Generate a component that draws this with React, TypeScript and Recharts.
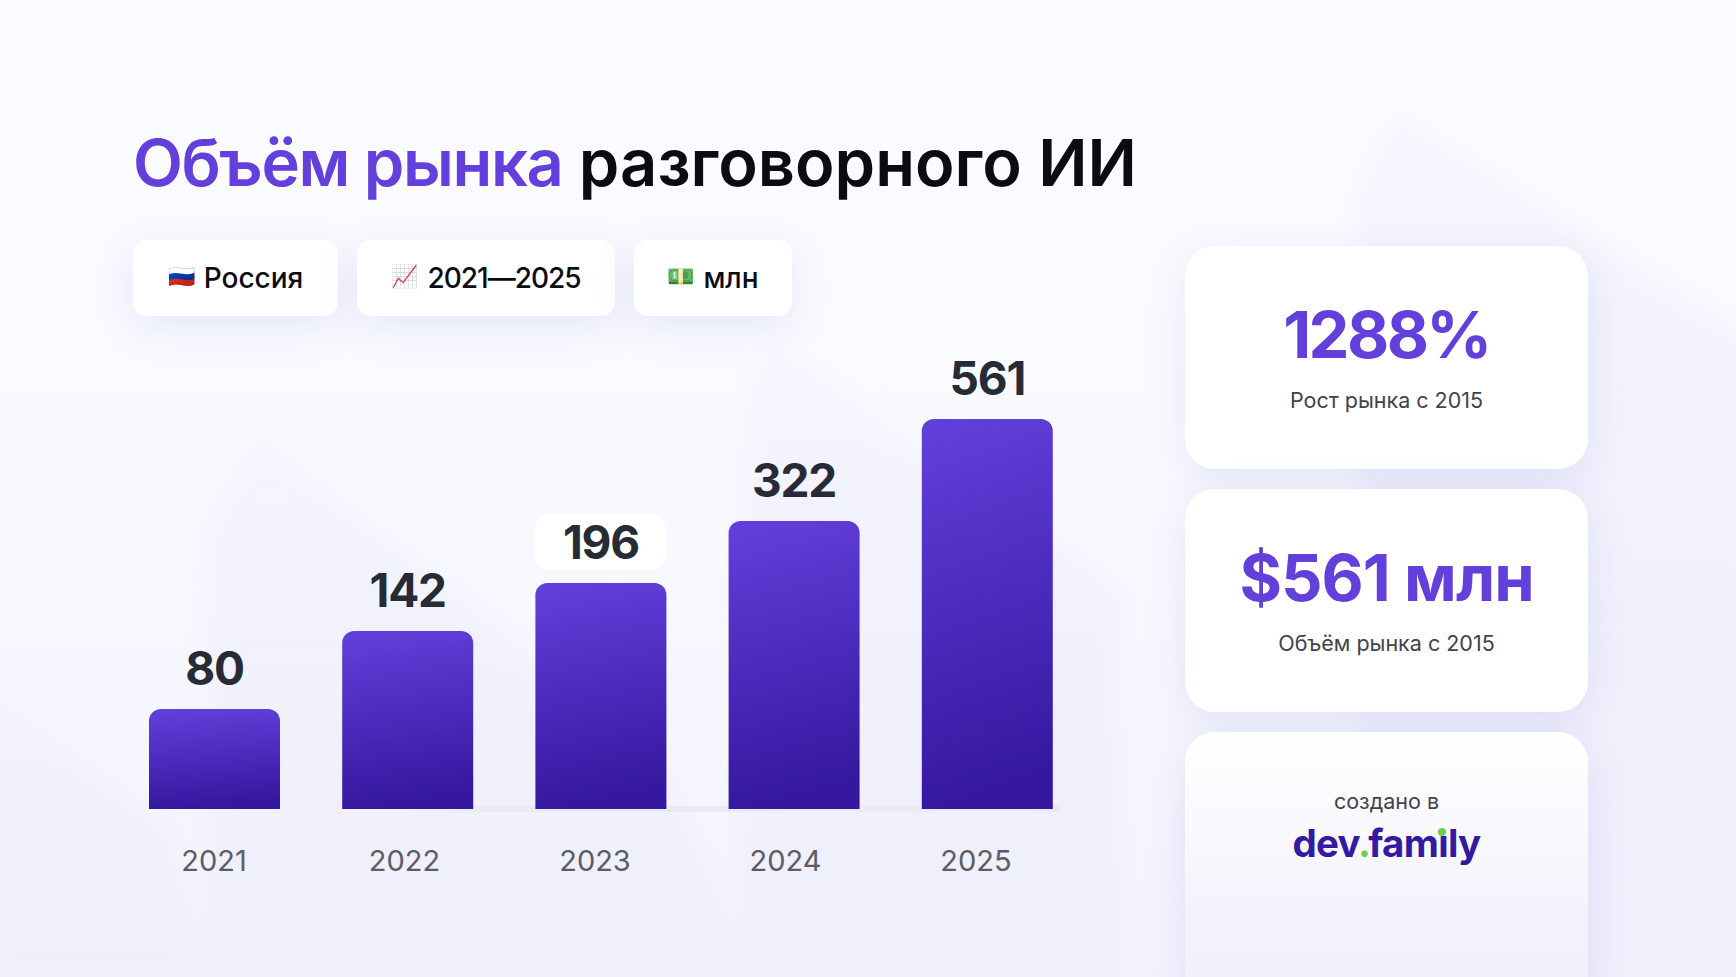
import { BarChart, Bar, XAxis, YAxis, LabelList, CartesianGrid } from "recharts";

const years = ["2021", "2022", "2023", "2024", "2025"];
const marketValues = [80, 142, 196, 322, 561];
// drawn bar lengths; the source does not scale them to the printed values
const barLengths = [100, 178, 226, 288, 390];
const highlightedYear = "2023";

const chipIcons = ["🇷🇺", "📈", "💵"];
const chipTexts = ["Россия", "2021—2025", "млн"];
const statValues = ["1288%", "$561 млн"];
const statCaptions = ["Рост рынка с 2015", "Объём рынка с 2015"];

const chipLefts = [133, 357, 634];
const chipWidths = [205, 258, 158];
const chipSpacing = [0, -1, 0];
const statTops = [246, 489];
const statSpacing = [-2.6, -1];

const tableData = years.map((year, i) => ({
  year,
  length: barLengths[i],
  value: marketValues[i],
}));

const font = "Inter, sans-serif";
const purple = "#6340dc";
const cardShadow = "0 10px 40px rgba(84, 100, 190, 0.13)";

function ValueLabel(props: any) {
  const { x, y, width, value, index } = props;
  const cx = x + width / 2;
  const isHighlighted = years[index] === highlightedYear;
  return (
    <g>
      {isHighlighted && <rect x={x - 1} y={y - 69} width={width + 1} height={56} rx={16} fill="#ffffff" />}
      <text
        x={cx}
        y={y - 24}
        textAnchor="middle"
        fontFamily={font}
        fontSize={46}
        fontWeight={700}
        fill="#272b36"
        style={{ letterSpacing: -1.2 }}
      >
        {value}
      </text>
    </g>
  );
}

function Background() {
  return (
    <svg width={1736} height={977} style={{ position: "absolute", left: 0, top: 0 }}>
      <defs>
        <linearGradient id="pageFill" x1="0" y1="0" x2="0" y2="1">
          <stop offset="0%" stopColor="#fbfcff" />
          <stop offset="45%" stopColor="#f9faff" />
          <stop offset="100%" stopColor="#f3f3fd" />
        </linearGradient>
        <linearGradient id="shapeFill" x1="0" y1="0" x2="0" y2="1">
          <stop offset="0%" stopColor="#eeeefc" stopOpacity={0.4} />
          <stop offset="100%" stopColor="#f0effc" stopOpacity={1} />
        </linearGradient>
        <filter id="soft" x="-20%" y="-20%" width="140%" height="140%">
          <feGaussianBlur stdDeviation="12" />
        </filter>
      </defs>
      <rect width={1736} height={977} fill="url(#pageFill)" />
      <g filter="url(#soft)" fill="url(#shapeFill)">
        <polygon points="1358,190 1395,112 1760,345 1760,1000 1358,1000" />
        <polygon points="742,420 770,345 1120,590 1120,1000 742,1000" />
        <polygon points="208,520 255,430 660,760 760,1000 208,1000" />
        <polygon points="-20,680 170,830 215,1000 -20,1000" />
      </g>
    </svg>
  );
}

function Chip({ index }: { index: number }) {
  return (
    <div
      style={{
        position: "absolute",
        left: chipLefts[index],
        top: 240,
        width: chipWidths[index],
        height: 76,
        borderRadius: 14,
        background: "#ffffff",
        boxShadow: cardShadow,
        display: "flex",
        alignItems: "center",
        justifyContent: "center",
        gap: 9,
        fontFamily: font,
        fontSize: 28,
        fontWeight: 500,
        color: "#0b0c12",
      }}
    >
      <span style={{ fontSize: 22, marginTop: -4 }}>{chipIcons[index]}</span>
      <span style={{ letterSpacing: chipSpacing[index] }}>{chipTexts[index]}</span>
    </div>
  );
}

function StatCard({ index }: { index: number }) {
  return (
    <div
      style={{
        position: "absolute",
        left: 1185,
        top: statTops[index],
        width: 403,
        height: 223,
        borderRadius: 30,
        background: "#ffffff",
        boxShadow: cardShadow,
        textAlign: "center",
        fontFamily: font,
      }}
    >
      <div
        style={{
          position: "absolute",
          left: 0,
          right: 0,
          top: 49,
          fontSize: 65,
          lineHeight: "80px",
          fontWeight: 700,
          letterSpacing: statSpacing[index],
          color: purple,
        }}
      >
        {statValues[index]}
      </div>
      <div style={{ position: "absolute", left: 0, right: 0, top: 139, fontSize: 21.5, lineHeight: "30px", color: "#3f434f" }}>
        {statCaptions[index]}
      </div>
    </div>
  );
}

function LogoCard() {
  const green = "#6bd04e";
  return (
    <div
      style={{
        position: "absolute",
        left: 1185,
        top: 732,
        width: 403,
        height: 270,
        borderRadius: 30,
        background: "linear-gradient(180deg, #ffffff 0%, #f1f0fc 85%)",
        boxShadow: cardShadow,
        textAlign: "center",
        fontFamily: font,
      }}
    >
      <div style={{ position: "absolute", left: 0, right: 0, top: 54, fontSize: 21.5, lineHeight: "30px", color: "#3f434f" }}>создано в</div>
      <div
        style={{
          position: "absolute",
          left: 0,
          right: 0,
          top: 86,
          fontSize: 38.5,
          lineHeight: "50px",
          fontWeight: 700,
          letterSpacing: -0.7,
          color: "#321ba0",
        }}
      >
        dev<span style={{ color: green, margin: "0 -2px" }}>.</span>fam
        <span style={{ position: "relative" }}>
          ı
          <span
            style={{
              position: "absolute",
              left: -0.5,
              top: 8,
              width: 8,
              height: 8,
              borderRadius: 4,
              background: green,
            }}
          />
        </span>
        ly
      </div>
    </div>
  );
}

export default function App() {
  return (
    <div style={{ position: "fixed", left: 0, top: 0, width: 1736, height: 977, overflow: "hidden", background: "#fbfbff" }}>
      <Background />
      <div
        style={{
          position: "absolute",
          left: 133,
          top: 123,
          fontFamily: font,
          fontSize: 65,
          lineHeight: "80px",
          fontWeight: 600,
          color: "#0b0c12",
          whiteSpace: "nowrap",
        }}
      >
        <span style={{ color: purple, letterSpacing: -1.4 }}>Объём рынка</span> разговорного ИИ
      </div>
      {chipTexts.map((text, i) => (
        <Chip key={text} index={i} />
      ))}
      <div style={{ position: "absolute", left: 0, top: 340 }}>
        <BarChart
          width={1100}
          height={600}
          data={tableData}
          margin={{ top: 79, right: 16, bottom: 71, left: 118 }}
          barSize={131}
        >
          <defs>
            <linearGradient id="barFill" x1="0" y1="0" x2="0.12" y2="1">
              <stop offset="0%" stopColor="#6340dc" />
              <stop offset="100%" stopColor="#35189f" />
            </linearGradient>
            <linearGradient id="baseFade" gradientUnits="userSpaceOnUse" x1="400" y1="0" x2="1084" y2="0">
              <stop offset="0%" stopColor="#e8ebf4" stopOpacity={0} />
              <stop offset="12%" stopColor="#e8ebf4" />
              <stop offset="96.6%" stopColor="#e8ebf4" />
              <stop offset="96.6%" stopColor="#e8ebf4" stopOpacity={0} />
            </linearGradient>
          </defs>
          <CartesianGrid xAxisId="bars" vertical={false} horizontalValues={[0]} stroke="url(#baseFade)" strokeWidth={6} />
          <XAxis xAxisId="bars" dataKey="year" hide />
          <XAxis
            xAxisId="labels"
            dataKey="year"
            scale="point"
            padding={{ left: 96, right: 108 }}
            height={60}
            axisLine={false}
            tickLine={false}
            tickMargin={5}
            tick={{ fontFamily: font, fontSize: 29, fill: "#5b5d66" }}
            interval={0}
          />
          <YAxis hide domain={[0, 390]} />
          <Bar xAxisId="bars" dataKey="length" fill="url(#barFill)" radius={[12, 12, 0, 0]} isAnimationActive={false}>
            <LabelList dataKey="value" content={<ValueLabel />} />
          </Bar>
        </BarChart>
      </div>
      {statValues.map((value, i) => (
        <StatCard key={value} index={i} />
      ))}
      <LogoCard />
    </div>
  );
}
